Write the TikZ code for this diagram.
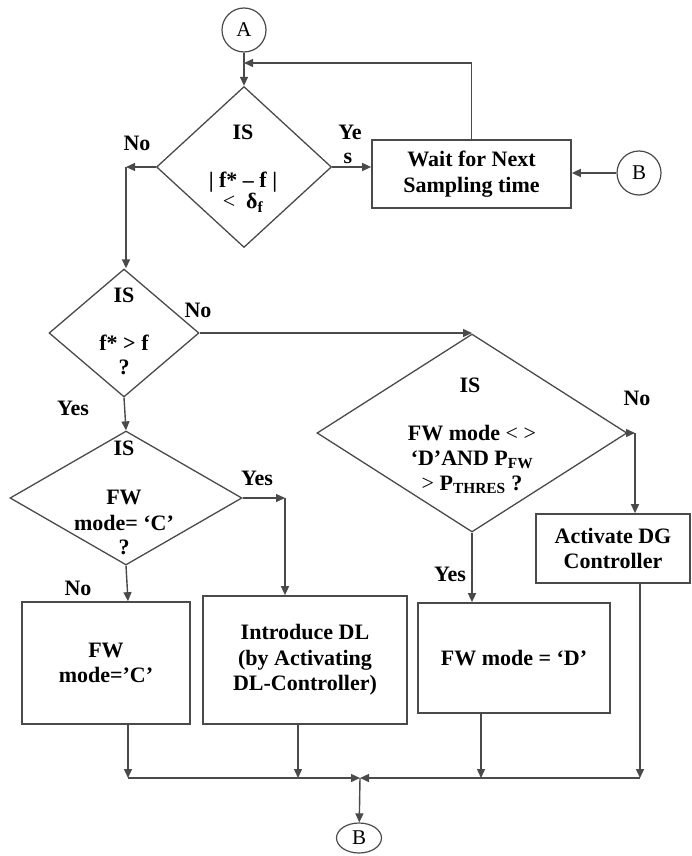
\documentclass[tikz,border=0pt]{standalone}
\usepackage{fontspec}
\setmainfont{Liberation Serif}
\usetikzlibrary{shapes.geometric,arrows.meta}
\definecolor{lc}{HTML}{4A4A4A}
\tikzset{
  ln/.style={draw=lc, line width=1.4pt},
  arr/.style={ln, -{Triangle[length=9pt,width=8pt]}},
  dia/.style={diamond, draw=lc, line width=1.3pt, inner sep=0pt},
  box/.style={rectangle, draw=lc, line width=1.7pt, inner sep=0pt, align=center,
    font=\bfseries\fontsize{22}{25.5}\selectfont},
  lbl/.style={inner sep=0pt, font=\bfseries\fontsize{22}{25.5}\selectfont},
  conn/.style={circle, draw=lc, line width=1.2pt, minimum size=44pt, inner sep=0pt,
    font=\fontsize{21}{24}\selectfont},
}
\begin{document}
\begin{tikzpicture}[x=1pt,y=-1pt]
\useasboundingbox (0,0) rectangle (691,856);
% connectors A / B
\node[conn] (A) at (244,30) {A};
\node[conn] (Br) at (639,173) {B};
\node[conn, ellipse, minimum width=45pt, minimum height=30pt] (Bb) at (359,838) {B};
% decisions
\node[dia, minimum width=175pt, minimum height=161pt] (d1) at (244,167) {};
\node[dia, minimum width=150pt, minimum height=128pt] (d2) at (124,333) {};
\node[dia, minimum width=310pt, minimum height=198pt] (d3) at (472,433) {};
\node[dia, minimum width=232pt, minimum height=134pt] (d4) at (126,498) {};
% decision texts
\node[lbl] (t1a) at (243,132) {IS};
\node[lbl] (t1b) at (243,182) {| f* – f |};
\node[lbl] (t1c) at (243,203) {{\mdseries <}\ \ δ\textsubscript{f}};
\node[lbl] (t2a) at (124,295) {IS};
\node[lbl] (t2b) at (124,343) {f* > f};
\node[lbl] (t2c) at (124,367) {?};
\node[lbl] (t4a) at (124,448) {IS};
\node[lbl] (t4b) at (124,497) {FW};
\node[lbl] (t4c) at (124,523) {mode= ‘C’};
\node[lbl] (t4d) at (124,547) {?};
\node[lbl] (t3a) at (470,385) {IS};
\node[lbl] (t3b) at (472,433) {FW mode {\mdseries < >}};
\node[lbl] (t3c) at (472,460) {‘D’AND P\textsubscript{FW}};
\node[lbl] (t3d) at (472,485) {{\mdseries >} P\textsubscript{THRES} ?};
% boxes
\node[box, minimum width=199pt, minimum height=68pt] (wait) at (471.5,174) {Wait for Next\\Sampling time};
\node[box, minimum width=168pt, minimum height=122pt] (fwc) at (106,663) {FW\\mode=’C’};
\node[box, minimum width=204pt, minimum height=128pt] (intro) at (305,660) {Introduce DL\\(by Activating\\DL-Controller)};
\node[box, minimum width=192pt, minimum height=110pt] (fwd) at (514,658) {FW mode = ‘D’};
\node[box, minimum width=154pt, minimum height=69pt] (dg) at (613,548.5) {Activate DG\\Controller};
% labels
\node[lbl] (l1) at (137,143) {No};
\node[lbl] (l2) at (350,132) {Ye};
\node[lbl] (l3) at (348,158) {s};
\node[lbl] (l4) at (198,310) {No};
\node[lbl] (l5) at (73,408) {Yes};
\node[lbl] (l6) at (257,478) {Yes};
\node[lbl] (l7) at (78,588) {No};
\node[lbl] (l8) at (637,398) {No};
\node[lbl] (l9) at (450,574) {Yes};
% helper coordinates
\coordinate (aIn) at (244,63);
\coordinate (c1) at (126,167);
\coordinate (c3) at (635,433);
\coordinate (c4) at (285,498);
\coordinate (j1) at (128,778);
\coordinate (j2) at (298,778);
\coordinate (j3) at (481,778);
\coordinate (j4) at (640,778);
\coordinate (jm) at (360,778);
% flow
\draw[arr] (A) -- (d1.north);
\draw[arr] (wait.north) |- (aIn);
\draw[arr] (d1.east) -- (d1.east -| wait.west);
\draw[arr] (Br.west) -- (Br.west -| wait.east);
\draw[arr] (d1.west) -- (c1);
\draw[arr] (c1) -- (c1 |- d2.north);
\draw[arr] (d2.east) -- (d2.east -| d3.north);
\draw[arr] (d2.south) -- (d4.north);
\draw[arr] (d3.east) -- (c3);
\draw[arr] (c3) -- (c3 |- dg.north);
\draw[arr] (d3.south) -- (d3.south |- fwd.north);
\draw[arr] (d4.east) -- (c4);
\draw[arr] (c4) -- (c4 |- intro.north);
\draw[arr] (d4.south) -- (j1 |- fwc.north);
\draw[arr] (j1 |- fwc.south) -- (j1);
\draw[arr] (j2 |- intro.south) -- (j2);
\draw[arr] (j3 |- fwd.south) -- (j3);
\draw[arr] (j4 |- dg.south) -- (j4);
\draw[arr] (j1) -- (jm);
\draw[arr] (j4) -- (jm);
\draw[arr] (jm) -- (Bb);
\end{tikzpicture}
\end{document}
